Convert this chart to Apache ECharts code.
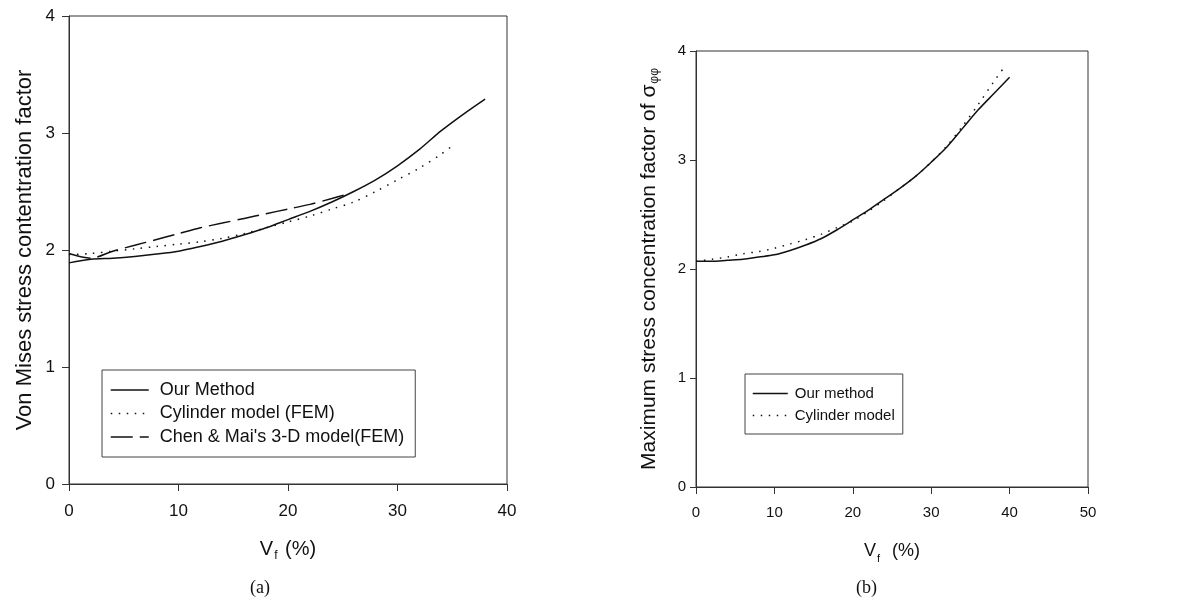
<!DOCTYPE html>
<html>
<head>
<meta charset="utf-8">
<script src="https://cdn.jsdelivr.net/npm/echarts@6/dist/echarts.min.js"></script>
<style>
html,body{margin:0;padding:0;background:#fff;}
#chart{width:1203px;height:599px;}
</style>
</head>
<body>
<div id="chart"></div>
<script>
// ---- Panel (a) data ----
const aOurX = [0,2,4,6,8,10,12,14,16,18,20,22,24,26,28,30,32,34,36,38];
const aOurY = [1.89,1.92,1.93,1.945,1.965,1.99,2.03,2.075,2.13,2.19,2.26,2.33,2.41,2.50,2.60,2.72,2.86,3.02,3.16,3.29];
const aCylX = [0,2,4,6,8,10,12,14,16,18,20,22,24,26,28,30,32,34,35];
const aCylY = [1.96,1.97,1.99,2.01,2.03,2.05,2.07,2.10,2.14,2.19,2.24,2.29,2.35,2.41,2.50,2.60,2.70,2.82,2.89];
const aChenX = [0,2,4,6,8,10,12,14,16,18,20,22,24,25.5];
const aChenY = [1.97,1.93,1.99,2.04,2.09,2.14,2.19,2.23,2.27,2.31,2.35,2.39,2.44,2.48];
// ---- Panel (b) data ----
const bOurX = [0,2,4,6,8,10,12,14,16,18,20,22,24,26,28,30,32,34,36,38,40];
const bOurY = [2.07,2.07,2.08,2.09,2.11,2.13,2.17,2.22,2.28,2.36,2.45,2.54,2.64,2.74,2.85,2.98,3.12,3.29,3.46,3.61,3.76];
const bCylX = [0,2,4,6,8,10,12,14,16,18,20,22,24,26,28,30,32,34,36,38,39.1];
const bCylY = [2.07,2.09,2.11,2.14,2.16,2.19,2.23,2.27,2.32,2.38,2.44,2.53,2.63,2.74,2.85,2.98,3.13,3.31,3.51,3.72,3.83];
// ---- Names / ticks ----
const aNames = ['Our Method', 'Cylinder model (FEM)', "Chen & Mai's 3-D model(FEM)"];
const bNames = ['Our method', 'Cylinder model'];
const aXTicks = {min:0, max:40, interval:10};
const bXTicks = {min:0, max:50, interval:10};
const yTicks = {min:0, max:4, interval:1};

const zip = (xs, ys) => xs.map((x, i) => [x, ys[i]]);
const FONT = '"Liberation Sans", Arial, Helvetica, sans-serif';
const INK = '#111';
const AX = '#333';

const dotted = [1.5, 6.5];
const dashed = [22, 7];

function xAxis(idx, t, labelSize, nameText, nameSize, subSize, gap, margin) {
  return {
    type: 'value', gridIndex: idx, min: t.min, max: t.max, interval: t.interval,
    axisLine: {show: true, lineStyle: {color: AX, width: 1}},
    axisTick: {show: true, inside: false, length: 7, lineStyle: {color: AX}},
    splitLine: {show: false},
    axisLabel: {color: INK, fontSize: labelSize, fontFamily: FONT, margin: margin},
    name: nameText, nameLocation: 'middle', nameGap: gap,
    nameTextStyle: {
      color: INK, fontFamily: FONT,
      rich: {
        v: {fontSize: nameSize, fontFamily: FONT, color: INK},
        s: {fontSize: subSize, fontFamily: FONT, color: INK, padding: [14, 2, 0, 1]}
      }
    }
  };
}
function yAxis(idx, labelSize, nameText, nameSize, subSize, gap, margin, tickLen) {
  return {
    type: 'value', gridIndex: idx, min: yTicks.min, max: yTicks.max, interval: yTicks.interval,
    axisLine: {show: true, lineStyle: {color: AX, width: 1}},
    axisTick: {show: true, inside: false, length: tickLen, lineStyle: {color: AX}},
    splitLine: {show: false},
    axisLabel: {color: INK, fontSize: labelSize, fontFamily: FONT, margin: margin},
    name: nameText, nameLocation: 'middle', nameGap: gap, nameRotate: 90,
    nameTextStyle: {
      color: INK, fontFamily: FONT,
      rich: {
        v: {fontSize: nameSize, fontFamily: FONT, color: INK},
        s: {fontSize: subSize, fontFamily: FONT, color: INK, padding: [12, 0, 0, 1]}
      }
    }
  };
}
function line(name, xi, yi, data, type) {
  return {
    name: name, type: 'line', xAxisIndex: xi, yAxisIndex: yi, data: data,
    symbol: 'none', smooth: 0.3, silent: true,
    lineStyle: {color: INK, width: 1.5, type: type},
    itemStyle: {color: INK}
  };
}
const legendItemStyle = {color: 'rgba(0,0,0,0)', borderWidth: 0, borderColor: 'rgba(0,0,0,0)', opacity: 0};

const chart = echarts.init(document.getElementById('chart'), null, {renderer: 'canvas'});
chart.setOption({
  backgroundColor: '#fff',
  animation: false,
  grid: [
    {left: 69, top: 16, width: 438, height: 468, show: true, borderColor: AX, borderWidth: 1, backgroundColor: 'transparent'},
    {left: 696, top: 51, width: 392, height: 436, show: true, borderColor: AX, borderWidth: 1, backgroundColor: 'transparent'}
  ],
  xAxis: [
    xAxis(0, aXTicks, 17, '{v|V}{s|f}{v| (%)}', 20, 12, 52, 19),
    xAxis(1, bXTicks, 15, '{v|V}{s|f}{v|  (%)}', 18, 11, 52, 18)
  ],
  yAxis: [
    yAxis(0, 17, '{v|Von Mises stress contentration factor}', 22, 13, 33, 14, 7),
    yAxis(1, 15, '{v|Maximum stress concentration factor of σ}{s|φφ}', 21, 12, 35, 10, 6)
  ],
  legend: [
    {
      data: aNames, orient: 'vertical', left: 102, top: 370,
      padding: [11, 11, 11, 8], itemWidth: 38, itemHeight: 14, itemGap: 5.5,
      backgroundColor: '#fff', borderColor: '#444', borderWidth: 1, borderRadius: 0,
      itemStyle: legendItemStyle,
      lineStyle: {color: INK, width: 1.5},
      textStyle: {color: INK, fontSize: 18, fontFamily: FONT, padding: [0, 0, 0, 6]},
      selectedMode: false
    },
    {
      data: bNames, orient: 'vertical', left: 745, top: 374,
      padding: [12, 8, 11, 7], itemWidth: 35, itemHeight: 14, itemGap: 7,
      backgroundColor: '#fff', borderColor: '#444', borderWidth: 1, borderRadius: 0,
      itemStyle: legendItemStyle,
      lineStyle: {color: INK, width: 1.5},
      textStyle: {color: INK, fontSize: 15, fontFamily: FONT, padding: [0, 0, 0, 2]},
      selectedMode: false
    }
  ],
  series: [
    line(aNames[0], 0, 0, zip(aOurX, aOurY), 'solid'),
    line(aNames[1], 0, 0, zip(aCylX, aCylY), dotted),
    line(aNames[2], 0, 0, zip(aChenX, aChenY), dashed),
    line(bNames[0], 1, 1, zip(bOurX, bOurY), 'solid'),
    line(bNames[1], 1, 1, zip(bCylX, bCylY), dotted)
  ],
  graphic: [
    {type: 'text', left: 250, top: 579, style: {text: '(a)', fontSize: 18, fontFamily: '"Liberation Serif", "Times New Roman", serif', fill: INK}},
    {type: 'text', left: 856, top: 579, style: {text: '(b)', fontSize: 18, fontFamily: '"Liberation Serif", "Times New Roman", serif', fill: INK}}
  ]
});
</script>
</body>
</html>
